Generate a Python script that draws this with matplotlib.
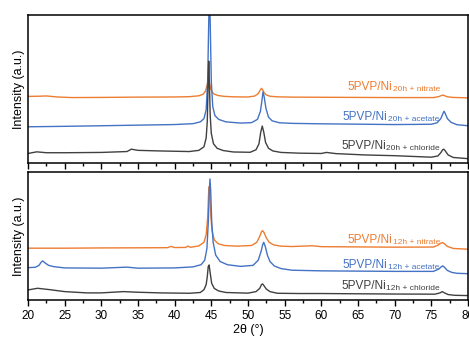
import matplotlib
matplotlib.use("Agg")
import matplotlib.pyplot as plt
from matplotlib.ticker import MultipleLocator

plt.rcParams['font.family'] = ['Liberation Sans', 'DejaVu Sans']

ORANGE = '#ED7D31'
BLUE = '#4472C4'
GRAY = '#404040'

# ---- 20 h panel ----
x20_nitrate = [20, 21.5, 22.5, 24, 26, 30, 35, 40, 42, 43.3, 43.9, 44.2, 44.4, 44.55, 44.65, 44.75, 44.9, 45.1, 45.4, 45.9, 46.8, 48, 50, 50.9, 51.4, 51.7, 51.85, 52.0, 52.2, 52.5, 53.0, 54, 56, 60, 70, 75.3, 76.0, 76.4, 76.6, 76.8, 77.2, 78, 80]
y20_nitrate = [45.0, 45.1, 45.3, 44.6, 44.2, 44.3, 44.5, 44.6, 44.8, 45.4, 46.5, 48.5, 52, 55, 56, 54, 50.5, 48, 46.5, 45.6, 45.0, 44.7, 44.6, 45.2, 46.8, 49.5, 50.4, 49.5, 47.5, 46, 45.1, 44.7, 44.5, 44.4, 44.2, 44.2, 44.8, 45.6, 45.9, 45.5, 44.7, 44.3, 44.0]

x20_acetate = [20, 25, 30, 35, 40, 42.5, 43.5, 44.0, 44.3, 44.5, 44.65, 44.75, 44.85, 45.0, 45.2, 45.5, 46.0, 47, 49, 50.5, 51.3, 51.7, 51.9, 52.05, 52.2, 52.45, 52.8, 53.3, 54.3, 56, 60, 70, 75, 75.8, 76.3, 76.6, 76.75, 76.9, 77.2, 77.7, 78.5, 80]
y20_acetate = [24.5, 24.8, 25.2, 25.6, 26.0, 26.6, 27.8, 30, 36, 55, 95, 118, 95, 55, 38, 32, 29.5, 27.8, 27.0, 27.3, 29.5, 35, 42, 48, 45, 37, 31, 28.5, 27.2, 26.8, 26.5, 26.0, 26.2, 27.2, 30, 33.5, 35, 33.5, 30, 27.5, 25.9, 25.2]

x20_chloride = [20, 21.2, 22.5, 25, 30, 33.5, 34.1, 35, 38, 42, 43.3, 44.0, 44.3, 44.45, 44.55, 44.65, 44.75, 44.85, 45.0, 45.3, 45.8, 46.6, 48, 50.3, 51.1, 51.5, 51.75, 51.95, 52.15, 52.4, 52.8, 53.4, 54.5, 57, 60, 60.7, 62, 66, 70, 75, 75.9, 76.3, 76.55, 76.7, 76.9, 77.3, 78, 80]
y20_chloride = [6.5, 7.6, 7.0, 7.0, 7.2, 7.8, 9.4, 8.6, 8.2, 7.8, 8.6, 11, 17, 28, 50, 68.8, 52, 32, 20, 13, 10, 8.5, 7.5, 7.3, 9, 13, 21, 25, 21, 14, 10, 8.2, 7.2, 6.7, 6.5, 7.2, 6.4, 5.5, 5.0, 4.0, 4.8, 7.0, 9.0, 9.4, 8.3, 5.5, 3.8, 3.0]

# ---- 12 h panel ----
x12_nitrate = [20, 25, 30, 35, 39, 39.5, 40, 41.5, 41.8, 42.2, 43.3, 44.0, 44.3, 44.5, 44.62, 44.72, 44.82, 44.95, 45.1, 45.4, 45.9, 46.8, 48.5, 50.5, 51.2, 51.6, 51.85, 52.0, 52.2, 52.5, 52.9, 53.5, 54.5, 56, 58.8, 60, 70, 75.3, 76.0, 76.3, 76.55, 76.8, 77.2, 78, 80]
y12_nitrate = [40.4, 40.4, 40.6, 40.7, 40.8, 41.8, 40.9, 41.0, 42.0, 41.1, 42.2, 45, 51, 64, 82, 88.5, 80, 64, 54, 47, 44, 42.5, 42.0, 42.5, 45, 49.5, 53.3, 54.1, 52.5, 48.5, 45, 43, 42, 41.7, 42.3, 41.6, 41.2, 41.3, 43, 44.3, 44.8, 43.8, 41.8, 40.2, 39.6]

x12_acetate = [20, 21, 21.5, 21.8, 22.0, 22.3, 22.8, 23.5, 25, 30, 33.5, 35, 40, 42.5, 43.6, 44.1, 44.4, 44.6, 44.72, 44.82, 44.92, 45.05, 45.25, 45.6, 46.2, 47.2, 49, 50.7, 51.4, 51.8, 52.0, 52.15, 52.35, 52.65, 53.0, 53.6, 54.5, 56, 60, 70, 75.3, 76.0, 76.35, 76.55, 76.8, 77.2, 77.8, 78.5, 80]
y12_acetate = [25.2, 25.5, 27.0, 29.5, 30.5, 29.0, 27.0, 26.0, 25.0, 24.8, 25.6, 24.8, 25.0, 25.8, 27.5, 31, 40, 62, 85, 94.5, 85, 62, 45, 35, 30, 27.5, 26.2, 27, 31, 38, 43, 45, 42, 35, 30, 26.5, 24.5, 23.2, 22.7, 22.3, 22.3, 24.0, 25.8, 26.6, 25.5, 23, 21.5, 20.8, 20.5]

x12_chloride = [20, 21.3, 23, 25, 28, 30, 33, 35, 38, 42, 43.5, 44.0, 44.3, 44.45, 44.58, 44.7, 44.85, 45.05, 45.4, 46, 47, 50, 51.1, 51.6, 51.85, 52.0, 52.2, 52.5, 53.0, 54, 57, 60, 70, 75.5, 76.2, 76.5, 76.8, 77.3, 78.2, 80]
y12_chloride = [7.8, 9.1, 8.0, 6.5, 5.5, 5.5, 6.5, 6.0, 5.5, 5.2, 5.8, 8, 12, 18, 26, 27.3, 21, 13, 9, 7, 5.8, 5.3, 6.5, 9, 12, 12.5, 11, 8.5, 6.5, 5.2, 5.0, 5.0, 4.6, 4.5, 5.5, 6.5, 5.5, 4.2, 3.6, 3.4]

main_label = '5PVP/Ni'
subs20 = ['20h + nitrate', '20h + acetate', '20h + chloride']
subs12 = ['12h + nitrate', '12h + acetate', '12h + chloride']
label_x = [63.6, 62.96, 62.7]
label_y20 = [49.2, 29.0, 9.6]
label_y12 = [44.3, 25.2, 8.3]

xticks = [20, 25, 30, 35, 40, 45, 50, 55, 60, 65, 70, 75, 80]

fig = plt.figure(figsize=(4.69, 3.37), dpi=100)
ax1 = fig.add_axes([0.0597, 0.516, 0.938, 0.440])
ax2 = fig.add_axes([0.0597, 0.110, 0.938, 0.380])

colors = [ORANGE, BLUE, GRAY]
panels = [
    (ax1, [(x20_nitrate, y20_nitrate), (x20_acetate, y20_acetate), (x20_chloride, y20_chloride)], subs20, label_y20),
    (ax2, [(x12_nitrate, y12_nitrate), (x12_acetate, y12_acetate), (x12_chloride, y12_chloride)], subs12, label_y12),
]
for ax, series, subs, ly in panels:
    for (xs, ys), c in zip(series, colors):
        ax.plot(xs, ys, color=c, lw=1.0)
    for sub, lx, yy, c in zip(subs, label_x, ly, colors):
        t = ax.text(lx, yy, main_label, color=c, fontsize=8.5, ha='left', va='baseline')
        ax.annotate(sub, xy=(1, 0), xycoords=t, xytext=(0.3, 1.3), textcoords='offset points',
                    color=c, fontsize=6.0, ha='left', va='baseline')
    ax.set_xlim(20, 80)
    ax.set_ylim(0, 100)
    ax.set_yticks([])
    ax.xaxis.set_major_locator(MultipleLocator(5))
    ax.xaxis.set_minor_locator(MultipleLocator(2.5))
    ax.tick_params(axis='x', which='major', length=4, width=1, direction='out', labelsize=8.5, pad=3)
    ax.tick_params(axis='x', which='minor', length=2.5, width=1, direction='out')
    for s in ax.spines.values():
        s.set_linewidth(1.1)
    ax.set_ylabel('Intensity (a.u.)', fontsize=9, labelpad=2)

ax1.set_xticklabels([])
ax2.set_xticks(xticks)
ax2.set_xlabel('2θ (°)', fontsize=9, labelpad=2)

fig.savefig('out.png', dpi=100)
